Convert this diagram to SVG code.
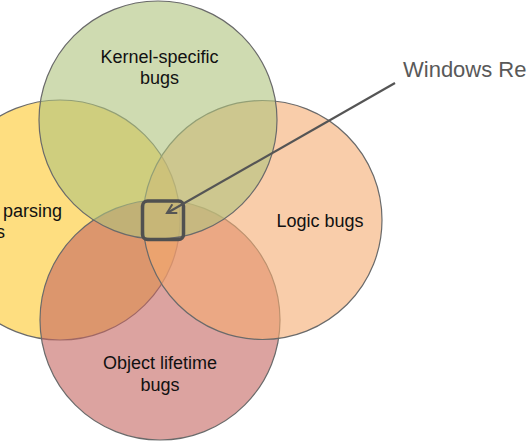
<svg xmlns="http://www.w3.org/2000/svg" width="530" height="442" viewBox="0 0 530 442">
  <defs>
    <style>
      .circle { stroke: #6a6a6a; stroke-width: 1.2; fill-opacity: 0.6; }
      .label { font-family: "Liberation Sans", Arial, sans-serif; font-size: 18px; fill: #111; text-anchor: middle; }
      .callout { font-family: "Liberation Sans", Arial, sans-serif; font-size: 22px; fill: #595959; }
      .conn { stroke: #555; stroke-width: 2.2; fill: none; }
    </style>
    <marker id="arrow" viewBox="0 0 12 12" refX="10" refY="6" markerWidth="12" markerHeight="12" markerUnits="userSpaceOnUse" orient="auto">
      <path d="M1,1 L10,6 L1,11" fill="none" stroke="#555" stroke-width="2"/>
    </marker>
  </defs>
  <rect width="530" height="442" fill="#fff"/>

  <g id="parsing-bugs">
    <circle class="circle" cx="60" cy="220" r="120" fill="#fdc82b"/>
    <text class="label" x="3" y="217" style="text-anchor:start">parsing</text>
    <text class="label" x="5" y="238" style="text-anchor:end">s</text>
  </g>
  <g id="object-lifetime-bugs">
    <circle class="circle" cx="160" cy="320" r="120" fill="#c56661"/>
    <text class="label" x="160" y="369">Object lifetime</text>
    <text class="label" x="160" y="391">bugs</text>
  </g>
  <g id="logic-bugs">
    <circle class="circle" cx="262.5" cy="220" r="119.5" fill="#f5ac71"/>
    <text class="label" x="320" y="227">Logic bugs</text>
  </g>
  <g id="kernel-specific-bugs">
    <circle class="circle" cx="158" cy="120" r="119" fill="#afc37d"/>
    <text class="label" x="159.5" y="63">Kernel-specific</text>
    <text class="label" x="159.5" y="84">bugs</text>
  </g>

  <g id="windows-registry">
    <rect x="142.5" y="201" width="41" height="38.5" rx="5" fill="none" stroke="#505050" stroke-width="3.5"/>
    <text class="callout" x="403" y="77">Windows Re</text>
  </g>

  <g id="connectors">
    <line class="conn" x1="395" y1="83" x2="167" y2="213" marker-end="url(#arrow)"/>
  </g>
</svg>
